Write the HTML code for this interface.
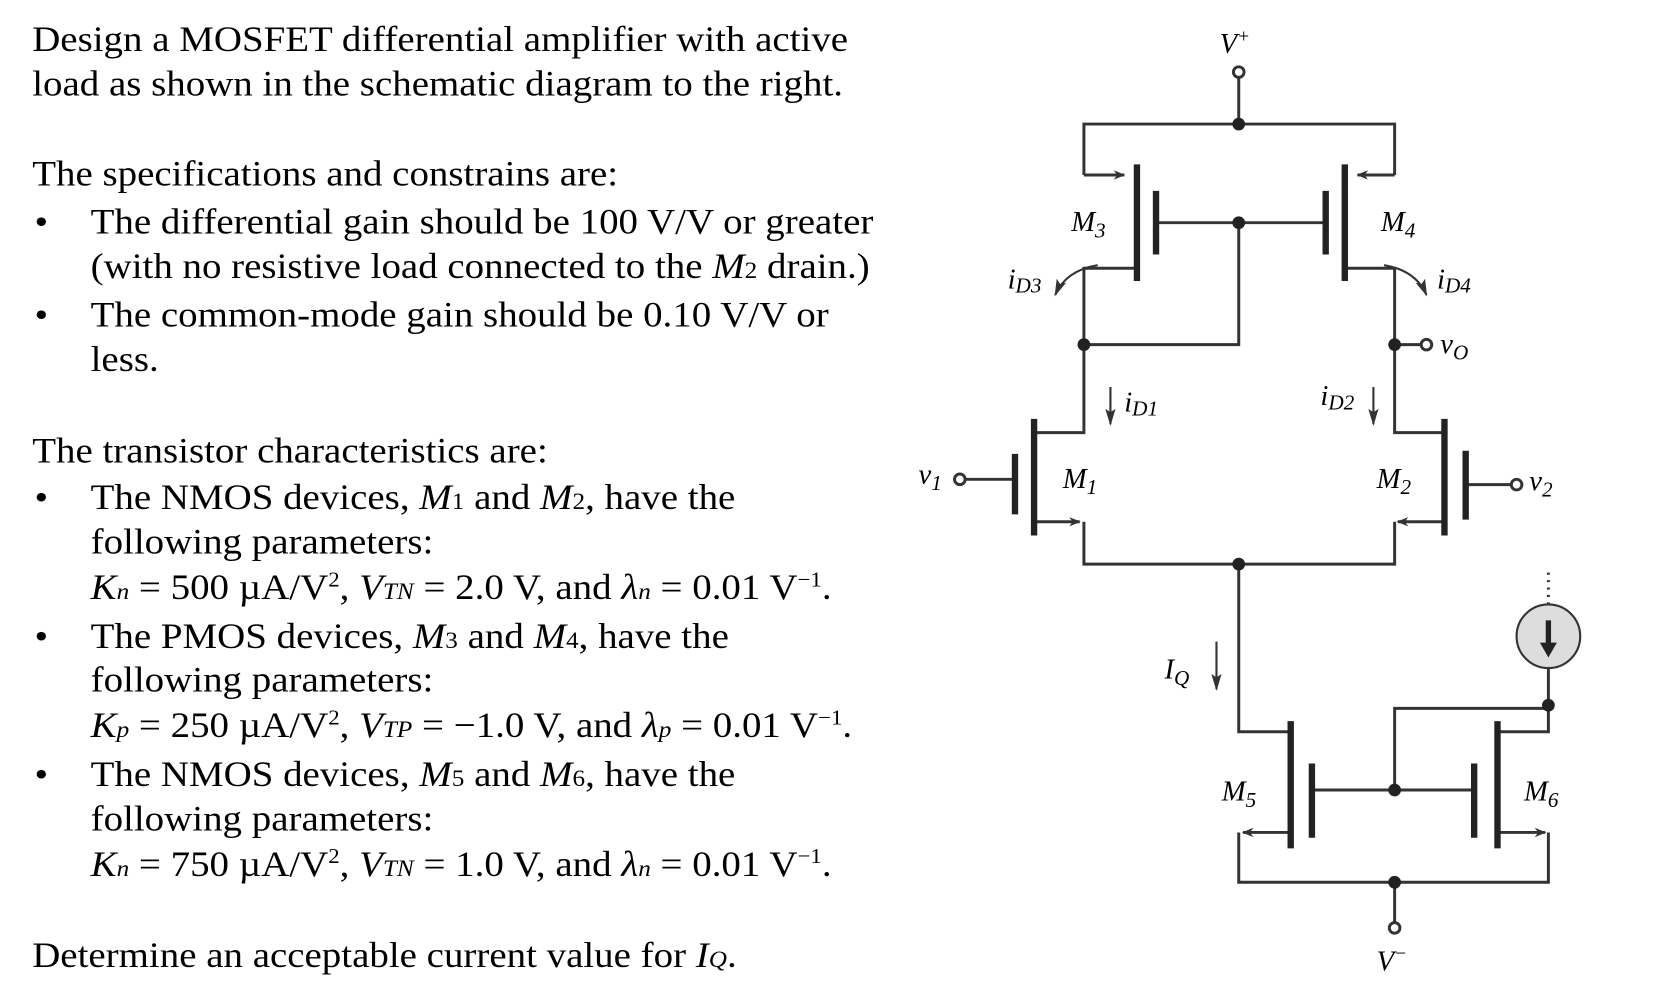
<!DOCTYPE html>
<html><head><meta charset="utf-8"><style>
html,body{margin:0;padding:0;background:#fff;}
svg{display:block}
text{font-family:"Liberation Serif",serif;fill:#000}
.t{font-size:34px}
.l{font-size:27px;font-style:italic;fill:#333}
</style></head><body>
<svg width="1662" height="1000" viewBox="0 0 1567 943" xmlns="http://www.w3.org/2000/svg">
<defs><marker id="a" viewBox="0 0 10 10" refX="9" refY="5" markerWidth="11" markerHeight="11" orient="auto" markerUnits="userSpaceOnUse"><path d="M0,1 L10,5 L0,9 L3,5 z" fill="#333"/></marker>
<marker id="b" viewBox="0 0 10 10" refX="9" refY="5" markerWidth="16" markerHeight="16" orient="auto" markerUnits="userSpaceOnUse"><path d="M0,2 L10,5 L0,8 L2,5 z" fill="#333"/></marker></defs>
<g class="t" transform="scale(1.08,1)">
<text x="28" y="48">Design a MOSFET differential amplifier with active</text>
<text x="28" y="90">load as shown in the schematic diagram to the right.</text>
<text x="28" y="175">The specifications and constrains are:</text>
<text x="30" y="220">•</text><text x="79" y="220">The differential gain should be 100 V/V or greater</text>
<text x="79" y="262">(with no resistive load connected to the <tspan font-style="italic">M</tspan><tspan font-size="22">2</tspan> drain.)</text>
<text x="30" y="308">•</text><text x="79" y="308">The common-mode gain should be 0.10 V/V or</text>
<text x="79" y="350">less.</text>
<text x="28" y="436">The transistor characteristics are:</text>
<text x="30" y="480">•</text><text x="79" y="480">The NMOS devices, <tspan font-style="italic">M</tspan><tspan font-size="22">1</tspan> and <tspan font-style="italic">M</tspan><tspan font-size="22">2</tspan>, have the</text>
<text x="79" y="522">following parameters:</text>
<text x="79" y="565"><tspan font-style="italic">K<tspan font-size="22">n</tspan></tspan> = 500 µA/V<tspan font-size="20" dy="-12">2</tspan><tspan dy="12">, </tspan><tspan font-style="italic">V<tspan font-size="22">TN</tspan></tspan> = 2.0 V, and <tspan font-style="italic">λ<tspan font-size="22">n</tspan></tspan> = 0.01 V<tspan font-size="20" dy="-12">−1</tspan><tspan dy="12">.</tspan></text>
<text x="30" y="611">•</text><text x="79" y="611">The PMOS devices, <tspan font-style="italic">M</tspan><tspan font-size="22">3</tspan> and <tspan font-style="italic">M</tspan><tspan font-size="22">4</tspan>, have the</text>
<text x="79" y="652">following parameters:</text>
<text x="79" y="695"><tspan font-style="italic">K<tspan font-size="22">p</tspan></tspan> = 250 µA/V<tspan font-size="20" dy="-12">2</tspan><tspan dy="12">, </tspan><tspan font-style="italic">V<tspan font-size="22">TP</tspan></tspan> = −1.0 V, and <tspan font-style="italic">λ<tspan font-size="22">p</tspan></tspan> = 0.01 V<tspan font-size="20" dy="-12">−1</tspan><tspan dy="12">.</tspan></text>
<text x="30" y="741">•</text><text x="79" y="741">The NMOS devices, <tspan font-style="italic">M</tspan><tspan font-size="22">5</tspan> and <tspan font-style="italic">M</tspan><tspan font-size="22">6</tspan>, have the</text>
<text x="79" y="783">following parameters:</text>
<text x="79" y="826"><tspan font-style="italic">K<tspan font-size="22">n</tspan></tspan> = 750 µA/V<tspan font-size="20" dy="-12">2</tspan><tspan dy="12">, </tspan><tspan font-style="italic">V<tspan font-size="22">TN</tspan></tspan> = 1.0 V, and <tspan font-style="italic">λ<tspan font-size="22">n</tspan></tspan> = 0.01 V<tspan font-size="20" dy="-12">−1</tspan><tspan dy="12">.</tspan></text>
<text x="28" y="912">Determine an acceptable current value for <tspan font-style="italic">I<tspan font-size="22">Q</tspan></tspan>.</text>
</g>
<g stroke="#333" stroke-width="2.8" fill="none">
<circle cx="1168" cy="68" r="5" fill="#fff"/>
<path d="M1168 73V117M1022 165V117H1315V165"/>
<path d="M1022 165H1060" marker-end="url(#a)"/>
<path d="M1315 165H1280" marker-end="url(#a)"/>
<path d="M1090 210H1250M1168 210V325H1022M1072 253H1022V408H975M1268 253H1315V408H1362"/>
<path d="M1315 325H1340"/><circle cx="1345" cy="325" r="5" fill="#fff"/>
<path d="M957 452H910"/><circle cx="905" cy="452" r="5" fill="#fff"/>
<path d="M1382 457H1425"/><circle cx="1430" cy="457" r="5" fill="#fff"/>
<path d="M975 492H1018" marker-end="url(#a)"/>
<path d="M1362 492H1318" marker-end="url(#a)"/>
<path d="M1022 492V532H1315V492M1168 532V690H1217M1237 745H1390M1315 745V668H1460M1412 690H1460V630"/>
<path d="M1217 785H1172" marker-end="url(#a)"/>
<path d="M1412 785H1457" marker-end="url(#a)"/>
<path d="M1168 785V832H1460V785M1315 832V870"/>
<circle cx="1315" cy="875" r="5" fill="#fff"/>
<path d="M1460 540V570" stroke-dasharray="2 5"/>
<circle cx="1460" cy="600" r="30" fill="#ddd" stroke-width="2"/>
<path d="M1047 365V400" stroke-width="2" marker-end="url(#b)"/>
<path d="M1295 365V400" stroke-width="2" marker-end="url(#b)"/>
<path d="M1147 605V650" stroke-width="2" marker-end="url(#b)"/>
<path d="M1035 250Q1005 255 995 278" stroke-width="2" marker-end="url(#b)"/>
<path d="M1305 250Q1335 255 1345 278" stroke-width="2" marker-end="url(#b)"/>
</g>
<g stroke="#222" stroke-width="6">
<path d="M1072 155V265M1090 180V240M1268 155V265M1250 180V240"/>
<path d="M975 395V505M957 428V485M1362 395V505M1382 425V490"/>
<path d="M1217 680V800M1237 720V790M1412 680V800M1390 720V790"/>
<path d="M1460 585V608" stroke-width="5"/>
</g>
<path d="M1452 606L1468 606L1460 620Z" fill="#222"/>
<g fill="#222">
<circle cx="1168" cy="117" r="6"/><circle cx="1168" cy="210" r="6"/><circle cx="1022" cy="325" r="6"/>
<circle cx="1315" cy="325" r="6"/><circle cx="1168" cy="532" r="6"/><circle cx="1315" cy="745" r="6"/>
<circle cx="1460" cy="665" r="6"/><circle cx="1315" cy="832" r="6"/>
</g>
<g class="l">
<text x="1150" y="50">V<tspan font-size="18" dy="-10">+</tspan></text>
<text x="1298" y="915">V<tspan font-size="18" dy="-10">−</tspan></text>
<text x="1010" y="218">M<tspan font-size="20" dy="6">3</tspan></text>
<text x="1302" y="218">M<tspan font-size="20" dy="6">4</tspan></text>
<text x="950" y="272">i<tspan font-size="20" dy="4">D3</tspan></text>
<text x="1355" y="272">i<tspan font-size="20" dy="4">D4</tspan></text>
<text x="1358" y="333">v<tspan font-size="20" dy="6">O</tspan></text>
<text x="1060" y="388">i<tspan font-size="20" dy="4">D1</tspan></text>
<text x="1245" y="382">i<tspan font-size="20" dy="4">D2</tspan></text>
<text x="1002" y="460">M<tspan font-size="20" dy="6">1</tspan></text>
<text x="1298" y="460">M<tspan font-size="20" dy="6">2</tspan></text>
<text x="866" y="456">v<tspan font-size="20" dy="6">1</tspan></text>
<text x="1442" y="462">v<tspan font-size="20" dy="6">2</tspan></text>
<text x="1098" y="640">I<tspan font-size="20" dy="6">Q</tspan></text>
<text x="1152" y="755">M<tspan font-size="20" dy="6">5</tspan></text>
<text x="1437" y="755">M<tspan font-size="20" dy="6">6</tspan></text>
</g>
</svg>
</body></html>
